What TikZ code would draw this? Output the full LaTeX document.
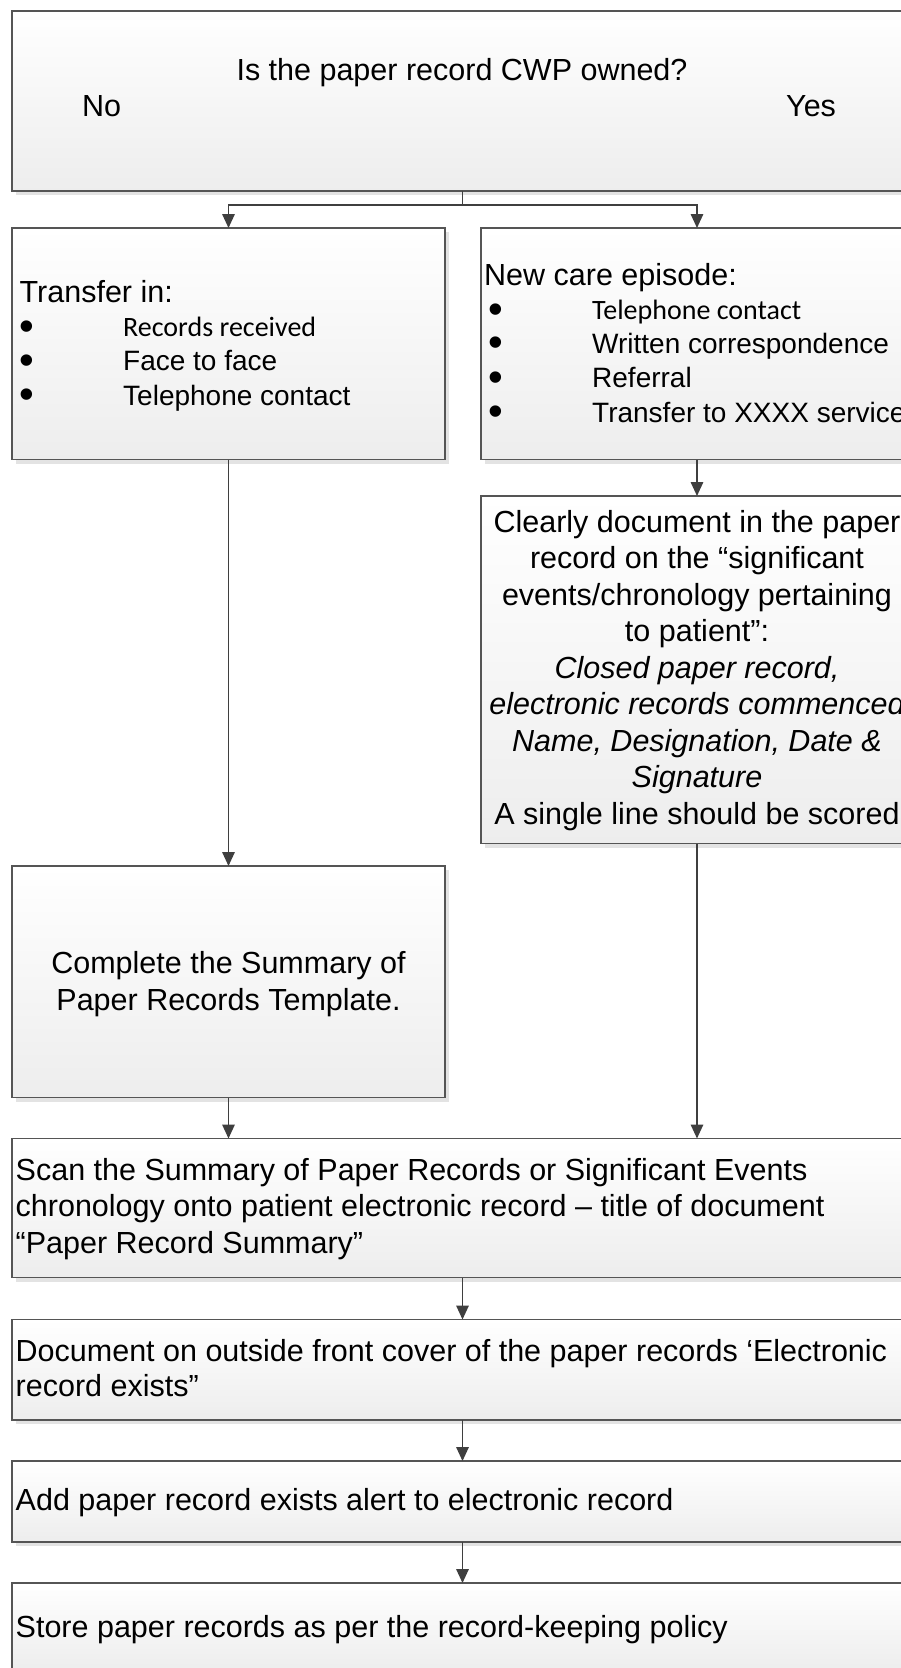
\documentclass[tikz,border=0pt]{standalone}
\usepackage{fontspec}
\setmainfont{Liberation Sans}
\newfontfamily\calfont{Carlito}
\usetikzlibrary{shadows,arrows.meta}
\definecolor{bd}{HTML}{555555}
\definecolor{ar}{HTML}{3F3F3F}
\newcommand\fbig{\fontsize{30.5}{36.5}\selectfont}
\newcommand\fsml{\fontsize{28}{34}\selectfont}
\tikzset{
  box/.style={draw=bd, line width=1.3pt, top color=white, bottom color=black!7,
    inner sep=0pt, outer sep=0pt, anchor=north west,
    drop shadow={shadow xshift=4pt,shadow yshift=-4pt,fill=black!11,opacity=1}},
  txt/.style={inner sep=0pt, font=\fbig},
  itm/.style={inner sep=0pt, font=\fsml, anchor=base west},
  bul/.style={inner sep=0pt, font=\fontsize{42}{42}\selectfont, anchor=base west},
  arr/.style={draw=ar, line width=1.6pt, -{Triangle[length=14pt,width=12.5pt]}},
  ln/.style={draw=ar, line width=1.6pt},
}
\begin{document}
\begin{tikzpicture}[x=1pt,y=-1pt]
\useasboundingbox (0,0) rectangle (901,1668);
\clip (0,0) rectangle (901,1668);
% boxes
\node[box, minimum width=901pt, minimum height=180pt] (q) at (12,11) {};
\node[box, minimum width=433pt, minimum height=231.5pt] (tin) at (12,228) {};
\node[box, minimum width=432pt, minimum height=231.5pt] (nce) at (481,228) {};
\node[box, minimum width=432pt, minimum height=347.5pt] (clr) at (481,496) {};
\node[box, minimum width=433pt, minimum height=231.5pt] (cmp) at (12,866) {};
\node[box, minimum width=901pt, minimum height=139pt] (scan) at (12,1138.5) {};
\node[box, minimum width=901pt, minimum height=100.5pt] (doc) at (12,1319.5) {};
\node[box, minimum width=901pt, minimum height=81pt] (add) at (12,1461) {};
\node[box, minimum width=901pt, minimum height=87pt] (store) at (12,1583) {};
% connectors
\coordinate (j) at (462.5,205);
\draw[ln] (q.south) -- (j);
\draw[arr] (j) -| (tin.north);
\draw[arr] (j) -| (nce.north);
\draw[arr] (tin.south) -- (cmp.north);
\draw[arr] (nce.south) -- (clr.north);
\draw[arr] (cmp.south) -- (cmp.south |- scan.north);
\draw[arr] (clr.south) -- (clr.south |- scan.north);
\draw[arr] (scan.south) -- (doc.north);
\draw[arr] (doc.south) -- (add.north);
\draw[arr] (add.south) -- (store.north);
% top box texts
\node[txt, anchor=base] (qt) at (462,80) {Is the paper record CWP owned?};
\node[txt, anchor=base west] (no) at (82,116.7) {No};
\node[txt, anchor=base west] (yes) at (786,116.7) {Yes};
% transfer in
\node[txt, anchor=base west] (tinh) at (19.5,302.7) {Transfer in:};
\node[bul] (tb1) at (19.5,340) {•};
\node[bul] (tb2) at (19.5,374) {•};
\node[bul] (tb3) at (19.5,408.3) {•};
\node[itm] (ti1) at (123,336.7) {\calfont Records received};
\node[itm] (ti2) at (123,370.7) {Face to face};
\node[itm] (ti3) at (123,405) {Telephone contact};
% new care episode
\node[txt, anchor=base west] (nceh) at (484,285) {New care episode:};
\node[bul] (nb1) at (488.5,323.1) {•};
\node[bul] (nb2) at (488.5,356.9) {•};
\node[bul] (nb3) at (488.5,391.2) {•};
\node[bul] (nb4) at (488.5,425.5) {•};
\node[itm] (ni1) at (592,319.8) {\calfont Telephone contact};
\node[itm] (ni2) at (592,353.6) {Written correspondence};
\node[itm] (ni3) at (592,387.9) {Referral};
\node[itm] (ni4) at (592,422.2) {Transfer to XXXX service};
% clearly document
\node[txt, anchor=base] (c1) at (697,532) {Clearly document in the paper};
\node[txt, anchor=base] (c2) at (697,568.5) {record on the “significant};
\node[txt, anchor=base] (c3) at (697,605) {events/chronology pertaining};
\node[txt, anchor=base] (c4) at (697,641.5) {to patient”:};
\node[txt, anchor=base] (c5) at (697,678) {\itshape Closed paper record,};
\node[txt, anchor=base] (c6) at (697,714.5) {\itshape electronic records commenced};
\node[txt, anchor=base] (c7) at (697,751) {\itshape Name, Designation, Date \&};
\node[txt, anchor=base] (c8) at (697,787.5) {\itshape Signature};
\node[txt, anchor=base] (c9) at (697,824) {A single line should be scored};
% complete
\node[txt, anchor=base] (m1) at (228.5,973.3) {Complete the Summary of};
\node[txt, anchor=base] (m2) at (228.5,1010) {Paper Records Template.};
% scan
\node[txt, anchor=base west] (s1) at (15.5,1180) {Scan the Summary of Paper Records or Significant Events};
\node[txt, anchor=base west] (s2) at (15.5,1216.7) {chronology onto patient electronic record – title of document};
\node[txt, anchor=base west] (s3) at (15.5,1253.3) {“Paper Record Summary”};
% document
\node[txt, anchor=base west] (d1) at (15.5,1361.7) {Document on outside front cover of the paper records ‘Electronic};
\node[txt, anchor=base west] (d2) at (15.5,1396.7) {record exists”};
% add
\node[txt, anchor=base west] (a1) at (15.5,1510.7) {Add paper record exists alert to electronic record};
% store
\node[txt, anchor=base west] (st1) at (15.5,1637) {Store paper records as per the record-keeping policy};
\end{tikzpicture}
\end{document}
